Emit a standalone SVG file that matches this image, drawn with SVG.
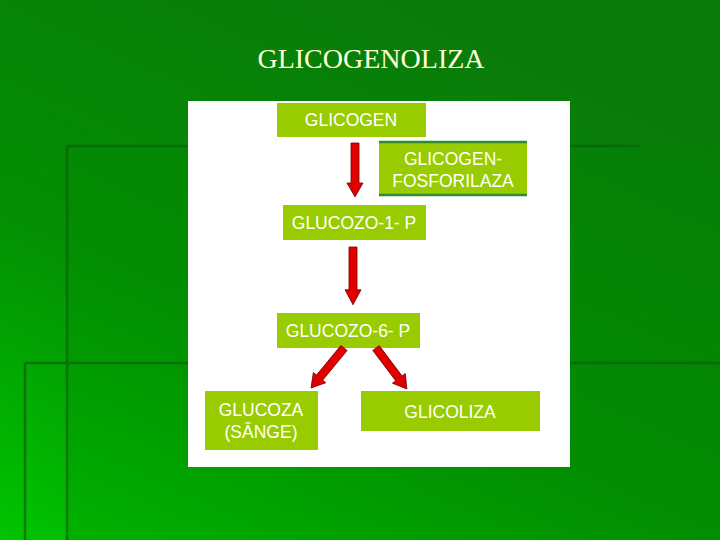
<svg xmlns="http://www.w3.org/2000/svg" width="720" height="540" viewBox="0 0 720 540">
<defs>
<linearGradient id="bg" x1="0.6" y1="0" x2="0" y2="1">
<stop offset="0" stop-color="#0A7A0A"/>
<stop offset="0.55" stop-color="#038F03"/>
<stop offset="1" stop-color="#00C400"/>
</linearGradient>
<polygon id="arr" points="-4,0 4,0 4,40 8,40 0,54 -8,40 -4,40" />
</defs>
<style>
.box{fill:#99CC00}
.lbl{font-family:"Liberation Sans",Arial,sans-serif;font-size:17.5px;fill:#FFFFFF;text-anchor:middle}
.arrow{fill:#E00000;stroke:#7A0000;stroke-width:0.8}
.deco{stroke:#0B5F0B;stroke-width:2.5;fill:none;opacity:0.7}
</style>
<rect width="720" height="540" fill="url(#bg)"/>
<rect x="67" y="146" width="653" height="394" fill="#008800" opacity="0.25"/>
<path class="deco" d="M67,146 H640 M67,146 V540 M25,363 H720 M25,363 V540"/>
<text x="371" y="68" font-family="Liberation Serif,'Times New Roman',serif" font-size="28" fill="#FFFFD8" text-anchor="middle">GLICOGENOLIZA</text>
<rect x="188" y="101" width="382" height="366" fill="#FFFFFF"/>
<g id="glicogen">
<rect class="box" x="277" y="103" width="149" height="34"/>
<text class="lbl" x="351" y="126">GLICOGEN</text>
</g>
<g id="fosforilaza">
<rect class="box" x="379" y="142" width="148" height="54"/>
<path d="M379,142 H527 M379,195 H527" stroke="#2E8B2E" stroke-width="2.5"/>
<text class="lbl" x="453" y="165">GLICOGEN-</text>
<text class="lbl" x="453" y="187">FOSFORILAZA</text>
</g>
<g id="g1p">
<rect class="box" x="283" y="205" width="143" height="35"/>
<text class="lbl" x="354" y="229">GLUCOZO-1- P</text>
</g>
<g id="g6p">
<rect class="box" x="277" y="313" width="143" height="35"/>
<text class="lbl" x="348" y="337">GLUCOZO-6- P</text>
</g>
<g id="glucoza">
<rect class="box" x="205" y="391" width="113" height="59"/>
<text class="lbl" x="261" y="416">GLUCOZA</text>
<text class="lbl" x="261" y="438">(SÂNGE)</text>
</g>
<g id="glicoliza">
<rect class="box" x="361" y="391" width="179" height="40"/>
<text class="lbl" x="450" y="418">GLICOLIZA</text>
</g>
<g id="connectors">
<use href="#arr" class="arrow" transform="translate(355,143)"/>
<use href="#arr" class="arrow" transform="translate(353,247) scale(1,1.07)"/>
<use href="#arr" class="arrow" transform="translate(344,348) rotate(39.5) scale(1,0.96)"/>
<use href="#arr" class="arrow" transform="translate(376,348) rotate(-37) scale(1,0.95)"/>
</g>
</svg>
